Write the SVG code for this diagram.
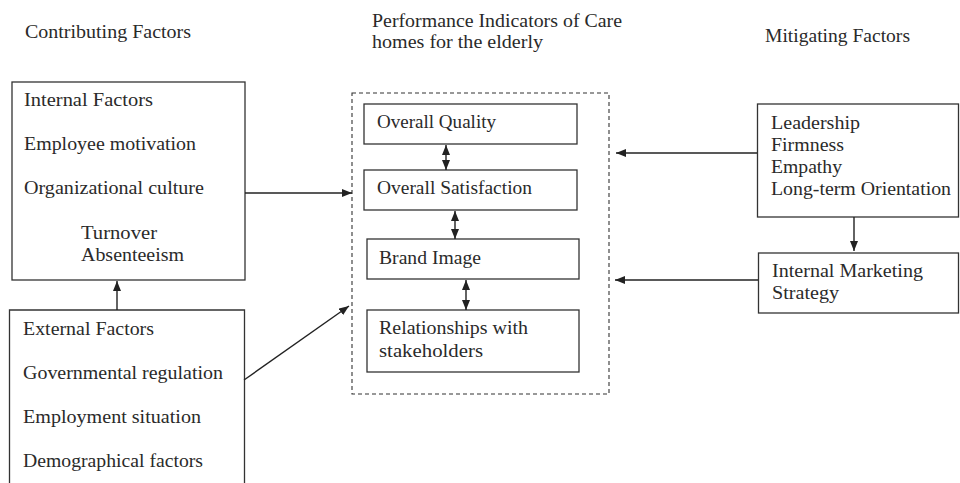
<svg xmlns="http://www.w3.org/2000/svg" width="960" height="483" viewBox="0 0 960 483">
<style>
  text { font-family: "Liberation Serif", "Times New Roman", serif; font-size: 18px; fill: #2a2a2a; }
  .box { fill: none; stroke: #333; stroke-width: 1.3; }
  .dash { fill: none; stroke: #333; stroke-width: 1.1; stroke-dasharray: 4 3; }
  .conn { fill: none; stroke: #222; stroke-width: 1.4; }
</style>
<defs>
  <marker id="ah" viewBox="0 0 10 8" refX="10" refY="4" markerWidth="10" markerHeight="8" markerUnits="userSpaceOnUse" orient="auto-start-reverse">
    <path d="M0,0 L10,4 L0,8 z" fill="#222"/>
  </marker>
</defs>
<rect width="960" height="483" fill="#fff"/>

<g id="titles">
  <text x="25" y="38" textLength="166" lengthAdjust="spacingAndGlyphs">Contributing Factors</text>
  <text x="372" y="27" textLength="250" lengthAdjust="spacingAndGlyphs">Performance Indicators of Care</text>
  <text x="372" y="48" textLength="171" lengthAdjust="spacingAndGlyphs">homes for the elderly</text>
  <text x="765" y="42" textLength="145" lengthAdjust="spacingAndGlyphs">Mitigating Factors</text>
</g>

<g id="internal-factors">
  <rect class="box" x="12" y="82" width="233" height="198"/>
  <text x="24" y="106" textLength="129" lengthAdjust="spacingAndGlyphs">Internal Factors</text>
  <text x="24" y="150" textLength="172" lengthAdjust="spacingAndGlyphs">Employee motivation</text>
  <text x="24" y="194" textLength="180" lengthAdjust="spacingAndGlyphs">Organizational culture</text>
  <text x="81" y="239" textLength="76" lengthAdjust="spacingAndGlyphs">Turnover</text>
  <text x="81" y="261" textLength="103" lengthAdjust="spacingAndGlyphs">Absenteeism</text>
</g>

<g id="external-factors">
  <path class="box" d="M9.5,495 V310 H244.5 V495"/>
  <text x="23" y="335" textLength="131" lengthAdjust="spacingAndGlyphs">External Factors</text>
  <text x="23" y="379" textLength="200" lengthAdjust="spacingAndGlyphs">Governmental regulation</text>
  <text x="23" y="423" textLength="178" lengthAdjust="spacingAndGlyphs">Employment situation</text>
  <text x="23" y="467" textLength="180" lengthAdjust="spacingAndGlyphs">Demographical factors</text>
</g>

<g id="performance-indicators">
  <rect class="dash" x="352" y="93" width="257" height="301"/>
</g>

<g id="overall-quality">
  <rect class="box" x="364" y="104" width="213" height="40"/>
  <text x="377" y="128" textLength="119" lengthAdjust="spacingAndGlyphs">Overall Quality</text>
</g>

<g id="overall-satisfaction">
  <rect class="box" x="364" y="170" width="213" height="40"/>
  <text x="377" y="194" textLength="155" lengthAdjust="spacingAndGlyphs">Overall Satisfaction</text>
</g>

<g id="brand-image">
  <rect class="box" x="367" y="239" width="212" height="40"/>
  <text x="379" y="264" textLength="102" lengthAdjust="spacingAndGlyphs">Brand Image</text>
</g>

<g id="relationships">
  <rect class="box" x="367" y="310" width="212" height="62"/>
  <text x="379" y="334" textLength="149" lengthAdjust="spacingAndGlyphs">Relationships with</text>
  <text x="379" y="357" textLength="104" lengthAdjust="spacingAndGlyphs">stakeholders</text>
</g>

<g id="leadership">
  <rect class="box" x="757.5" y="104" width="201" height="113"/>
  <text x="771" y="129" textLength="89" lengthAdjust="spacingAndGlyphs">Leadership</text>
  <text x="771" y="151" textLength="73" lengthAdjust="spacingAndGlyphs">Firmness</text>
  <text x="771" y="173" textLength="71" lengthAdjust="spacingAndGlyphs">Empathy</text>
  <text x="771" y="195" textLength="180" lengthAdjust="spacingAndGlyphs">Long-term Orientation</text>
</g>

<g id="internal-marketing">
  <rect class="box" x="758.5" y="253" width="200" height="60"/>
  <text x="772" y="277" textLength="151" lengthAdjust="spacingAndGlyphs">Internal Marketing</text>
  <text x="772" y="299" textLength="67" lengthAdjust="spacingAndGlyphs">Strategy</text>
</g>

<g id="connectors">
  <line class="conn" x1="245" y1="193" x2="352" y2="193" marker-end="url(#ah)"/>
  <line class="conn" x1="244" y1="380" x2="349" y2="306" marker-end="url(#ah)"/>
  <line class="conn" x1="757" y1="153" x2="616" y2="153" marker-end="url(#ah)"/>
  <line class="conn" x1="758" y1="280" x2="615" y2="280" marker-end="url(#ah)"/>
  <line class="conn" x1="854" y1="217" x2="854" y2="251" marker-end="url(#ah)"/>
  <line class="conn" x1="117" y1="310" x2="117" y2="281" marker-end="url(#ah)"/>
  <line class="conn" x1="446" y1="145" x2="446" y2="170" marker-start="url(#ah)" marker-end="url(#ah)"/>
  <line class="conn" x1="455" y1="211" x2="455" y2="239" marker-start="url(#ah)" marker-end="url(#ah)"/>
  <line class="conn" x1="466" y1="280" x2="466" y2="310" marker-start="url(#ah)" marker-end="url(#ah)"/>
</g>
</svg>
